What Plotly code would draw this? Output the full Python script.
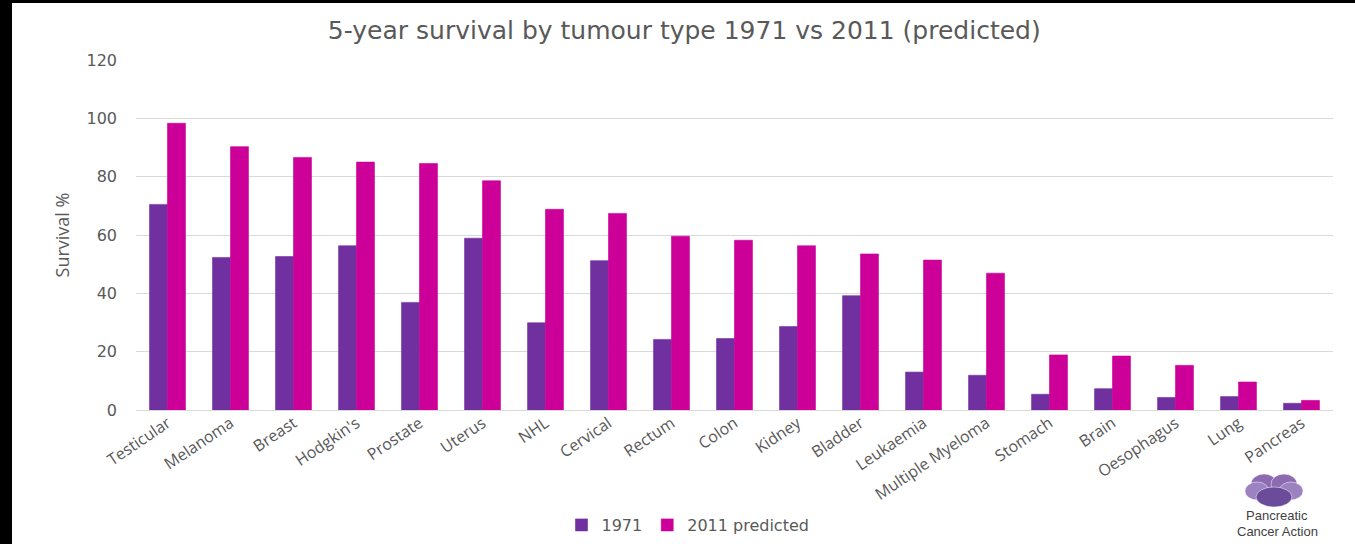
import plotly.graph_objects as go

# Five-year survival by tumour type
tumours = ["Testicular", "Melanoma", "Breast", "Hodgkin's", "Prostate", "Uterus", "NHL",
           "Cervical", "Rectum", "Colon", "Kidney", "Bladder", "Leukaemia",
           "Multiple Myeloma", "Stomach", "Brain", "Oesophagus", "Lung", "Pancreas"]
survival_1971 = [70.5, 52.3, 52.6, 56.3, 36.9, 58.9, 29.9, 51.2, 24.2, 24.5, 28.6, 39.2,
                 13.0, 11.9, 5.4, 7.3, 4.3, 4.6, 2.3]
survival_2011 = [98.3, 90.3, 86.6, 85.0, 84.5, 78.6, 68.8, 67.4, 59.6, 58.2, 56.3, 53.5,
                 51.4, 46.9, 18.9, 18.5, 15.3, 9.6, 3.3]
y_ticks = [0, 20, 40, 60, 80, 100, 120]

W, H = 1355, 544
L, R, T, B = 136, 22, 60, 134
PW, PH = W - L - R, H - T - B


def px_x(x):
    return (x - L) / PW


def px_y(y):
    return (H - B - y) / PH


TXT = "#595959"
FONT = "Open Sans"
WIDE = "DejaVu Sans"
C1971, C2011 = "#7030A0", "#CC0099"

fig = go.Figure()
fig.add_trace(go.Bar(name="1971", x=tumours, y=survival_1971,
                     marker=dict(color=C1971, line=dict(width=0.6, color=C1971))))
fig.add_trace(go.Bar(name="2011 predicted", x=tumours, y=survival_2011,
                     marker=dict(color=C2011, line=dict(width=0.6, color=C2011))))

shapes = [
    # black frame strips and white canvas
    dict(type="rect", xref="paper", yref="paper", layer="below",
         x0=px_x(0), x1=px_x(W), y0=px_y(H), y1=px_y(0),
         fillcolor="black", line_width=0),
    dict(type="rect", xref="paper", yref="paper", layer="below",
         x0=px_x(12), x1=px_x(W), y0=px_y(H), y1=px_y(3),
         fillcolor="white", line_width=0),
]

# Pancreatic Cancer Action pansy
petals = [
    (1251, 474, 1277, 494, "#8C6BB1"),
    (1271, 474, 1297, 494, "#8C6BB1"),
    (1245, 482, 1269, 500, "#9D82C2"),
    (1279, 482, 1303, 500, "#9D82C2"),
    (1256, 487, 1292, 507, "#6B4C9A"),
]
for x0, y0, x1, y1, c in petals:
    shapes.append(dict(type="circle", xref="paper", yref="paper",
                       x0=px_x(x0), x1=px_x(x1), y0=px_y(y1), y1=px_y(y0),
                       fillcolor=c, line=dict(color="rgba(255,255,255,0.5)", width=1)))

logo_font = dict(family="Liberation Sans, Arial", size=13, color="#3F3F3F")
annotations = [
    dict(text="Pancreatic", xref="paper", yref="paper",
         x=px_x(1277), y=px_y(515), xanchor="center", yanchor="middle",
         showarrow=False, font=logo_font),
    dict(text="Cancer Action", xref="paper", yref="paper",
         x=px_x(1277), y=px_y(531), xanchor="center", yanchor="middle",
         showarrow=False, font=logo_font),
]

fig.update_layout(
    width=W, height=H,
    margin=dict(l=L, r=R, t=T, b=B, autoexpand=False),
    paper_bgcolor="white", plot_bgcolor="rgba(0,0,0,0)",
    barmode="group", bargap=0.43, bargroupgap=0,
    title=dict(text="5-year survival by tumour type 1971 vs 2011 (predicted)",
               xref="container", yref="container", x=0.505, y=1 - 30 / H,
               xanchor="center", yanchor="middle",
               font=dict(family=WIDE, size=25, color=TXT)),
    xaxis=dict(tickangle=-34, tickfont=dict(family=FONT, size=16, color=TXT),
               showgrid=False, showline=False, ticks=""),
    yaxis=dict(range=[0, 120], tickvals=y_ticks, showgrid=True, gridcolor="#D9D9D9",
               gridwidth=1, zeroline=True, zerolinecolor="#D9D9D9", zerolinewidth=1,
               ticks="", ticklabelstandoff=18,
               tickfont=dict(family=WIDE, size=16, color=TXT),
               title=dict(text="Survival %", standoff=12,
                          font=dict(family=FONT, size=18, color=TXT))),
    legend=dict(orientation="h", x=px_x(688), y=px_y(525), xanchor="center", yanchor="middle",
                font=dict(family=WIDE, size=16, color=TXT), itemwidth=30,
                traceorder="normal", bgcolor="rgba(0,0,0,0)"),
    shapes=shapes,
    annotations=annotations,
    showlegend=True,
)

fig.write_html("out.html")
